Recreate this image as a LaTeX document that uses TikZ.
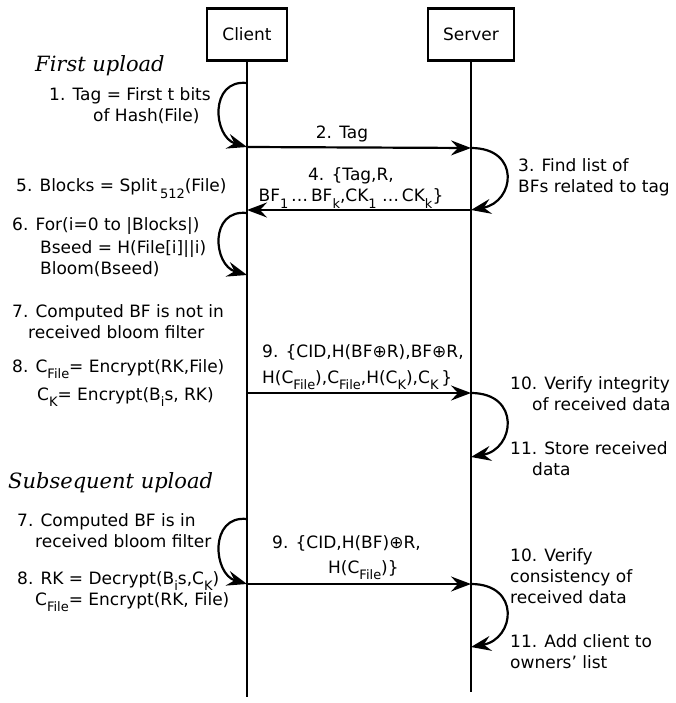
\documentclass[tikz,border=0pt]{standalone}
\usepackage{fontspec}
\setmainfont{DejaVu Sans}
\newfontfamily\headfont{DejaVu Serif}
\usetikzlibrary{arrows.meta}

\newcommand\sbs[1]{\raisebox{-0.65ex}{\fontsize{13}{13}\selectfont #1}}

\begin{document}
\begin{tikzpicture}[x=1pt,y=-1pt,font=\fontsize{17}{21}\selectfont]

\def\cx{247}
\def\sx{471}
\tikzstyle{actor} = [
	draw, line width=2.2pt, rectangle, inner sep=0pt,
	minimum height=52pt, minimum width=80pt ];
\tikzstyle{life} = [line width=2.2pt];
\tikzstyle{msg} = [line width=2.2pt, -{Stealth[length=20pt,width=15pt,inset=7pt]}];
\tikzstyle{txt} = [anchor=base west, inner sep=0pt, align=left];
\tikzstyle{lbl} = [anchor=base, inner sep=0pt, align=center];
\tikzstyle{phase} = [anchor=base west, inner sep=0pt, font=\fontsize{21}{25}\selectfont\headfont\itshape];

\useasboundingbox (0,0) rectangle (675,703);

\node[actor] (client) at (\cx,34.5) {Client};
\node[actor,minimum width=86pt] (server) at (\sx,34.5) {Server};
\coordinate (cend) at (\cx,697);
\coordinate (send) at (\sx,692);
\draw[life] (client.south) -- (cend);
\draw[life] (server.south) -- (send);

% points on the lifelines
\coordinate (c1) at (\cx,83);
\coordinate (c2) at (\cx,147);
\coordinate (s2) at (\sx,148);
\coordinate (s3) at (\sx,210);
\coordinate (c4) at (\cx,210);
\coordinate (c6) at (\cx,213);
\coordinate (c7) at (\cx,275);
\coordinate (c9) at (\cx,393);
\coordinate (s9) at (\sx,393);
\coordinate (s11) at (\sx,457);
\coordinate (d7) at (\cx,519);
\coordinate (d8) at (\cx,584);
\coordinate (t9) at (\sx,584);
\coordinate (t11) at (\sx,647);

% first upload (multi-line nodes sit on their last baseline)
\node[phase] (first) at (35,72) {First upload};
\node[txt] (tag) at (49,122) {1. Tag = First t bits\\\hspace*{44pt}of Hash(File)};
\draw[msg] (c1) .. controls +(-38,-4) and +(-34,-10) .. (c2);
\node[lbl] (m2) at (342,139) {2. Tag};
\draw[msg] (c2) -- (s2);
\draw[msg] (s2) .. controls +(50,0) and +(44,-8) .. (s3);
\node[txt] (find) at (518,193) {3. Find list of\\BFs related to tag};
\node[lbl] (m4) at (351,202) {4. \{Tag,R,\\BF\sbs{1}\,…\,BF\sbs{k},CK\sbs{1} …\,CK\sbs{k}\}};
\draw[msg] (s3) -- (c4);
\node[txt] (split) at (16,192) {5. Blocks = Split\,\sbs{512}(File)};
\node[txt] (loop) at (12,274) {6. For(i=0 to |Blocks|)\\[2pt]\hspace*{28pt}Bseed = H(File[i]||i)\\\hspace*{28pt}Bloom(Bseed)};
\draw[msg] (c6) .. controls +(-38,-4) and +(-34,-10) .. (c7);
\node[txt] (notin) at (12,338) {7. Computed BF is not in\\\hspace*{16pt}received bloom filter};
\node[txt] (enc) at (12,400) {8. C\sbs{File}= Encrypt(RK,File)\\[7pt]\hspace*{25pt}C\sbs{K}= Encrypt(B\sbs{i}s, RK)};
\node[txt] (m9) at (262,383) {9. \{CID,H(BF⊕R),BF⊕R,\\[5pt]H(C\sbs{File}),C\sbs{File},H(C\sbs{K}),C\sbs{K}\,\}};
\draw[msg] (c9) -- (s9);
\draw[msg] (s9) .. controls +(50,0) and +(44,-8) .. (s11);
\node[txt] (verify) at (510,410) {10. Verify integrity\\\hspace*{22pt}of received data};
\node[txt] (store) at (510,475) {11. Store received\\\hspace*{22pt}data};

% subsequent upload
\node[phase] (next) at (8,488) {Subsequent upload};
\node[txt] (isin) at (17,547) {7. Computed BF is in\\\hspace*{18pt}received bloom filter};
\draw[msg] (d7) .. controls +(-38,-4) and +(-34,-10) .. (d8);
\node[txt] (dec) at (17,605) {8. RK = Decrypt(B\sbs{i}s,C\sbs{K})\\\hspace*{18pt}C\sbs{File}= Encrypt(RK, File)};
\node[txt] (n9) at (272,573) {9. \{CID,H(BF)⊕R,\\[4pt]\hspace*{56pt}H(C\sbs{File})\}};
\draw[msg] (d8) -- (t9);
\draw[msg] (t9) .. controls +(50,0) and +(44,-8) .. (t11);
\node[txt] (consist) at (510,603) {10. Verify\\consistency of\\received data};
\node[txt] (owner) at (510,668) {11. Add client to\\owners’ list};

\end{tikzpicture}
\end{document}
